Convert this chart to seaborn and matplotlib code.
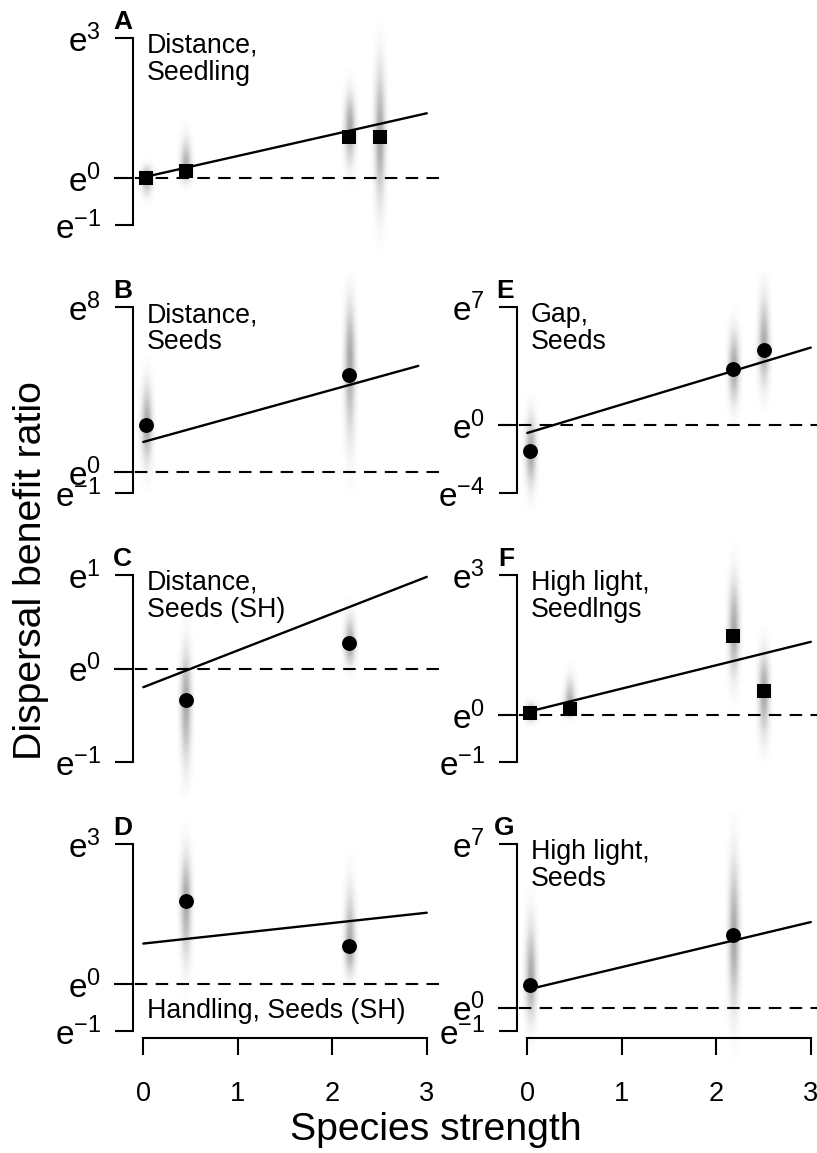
import numpy as np
import matplotlib
matplotlib.use('Agg')
import matplotlib.pyplot as plt
import seaborn as sns

# species strength (x) and posterior median benefit ratio (log scale) per panel
strength_A = [0.03, 0.45, 2.18, 2.5]
ratio_A = [0.0, 0.15, 0.88, 0.88]
fit_A = [0.02, 1.39]
mode_A = [0.0, 0.2, 1.1, 0.9]
low_A = [-0.47, -0.19, 0.02, -1.1]
high_A = [0.32, 1.03, 2.1, 2.95]

strength_B = [0.03, 2.18]
ratio_B = [2.28, 4.71]
fit_B = [1.47, 5.15]
mode_B = [2.3, 5.5]
low_B = [-0.24, 0.24]
high_B = [4.95, 9.2]

strength_C = [0.45, 2.18]
ratio_C = [-0.34, 0.27]
fit_C = [-0.2, 0.98]
mode_C = [-0.35, 0.25]
low_C = [-1.28, -0.05]
high_C = [0.41, 0.66]

strength_D = [0.45, 2.18]
ratio_D = [1.78, 0.82]
fit_D = [0.87, 1.53]
mode_D = [1.8, 0.75]
low_D = [0.09, 0.0]
high_D = [3.15, 2.44]

strength_E = [0.03, 2.18, 2.5]
ratio_E = [-1.54, 3.35, 4.44]
fit_E = [-0.45, 4.6]
mode_E = [-1.6, 3.4, 4.6]
low_E = [-4.4, 0.5, 1.5]
high_E = [1.3, 6.4, 8.6]

strength_F = [0.03, 0.45, 2.18, 2.5]
ratio_F = [0.04, 0.13, 1.70, 0.51]
fit_F = [0.07, 1.57]
mode_F = [0.05, 0.2, 1.8, 0.5]
low_F = [-0.21, -0.1, 0.47, -0.8]
high_F = [0.32, 0.96, 3.3, 1.67]

strength_G = [0.03, 2.18]
ratio_G = [0.95, 3.12]
fit_G = [0.77, 3.66]
mode_G = [1.2, 3.0]
low_G = [-1.2, -1.2]
high_G = [4.5, 7.5]

fit_x = [0, 3]
fit_x_B = [0, 2.91]

labels = ['A', 'B', 'C', 'D', 'E', 'F', 'G']
titles = ['Distance,\nSeedling', 'Distance,\nSeeds', 'Distance,\nSeeds (SH)',
          'Handling, Seeds (SH)', 'Gap,\nSeeds', 'High light,\nSeedlngs',
          'High light,\nSeeds']
y_top = [3, 8, 1, 3, 7, 3, 7]
y_bottom = [-1, -1, -1, -1, -4, -1, -1]

sns.set_theme(style='white')
plt.rcParams['font.family'] = ['Liberation Sans', 'DejaVu Sans']
plt.rcParams['mathtext.fontset'] = 'custom'
plt.rcParams['mathtext.rm'] = 'Liberation Sans'
plt.rcParams['text.color'] = 'black'
plt.rcParams['xtick.color'] = 'black'
plt.rcParams['ytick.color'] = 'black'

W, H = 817, 1153
fig = plt.figure(figsize=(W / 100, H / 100), dpi=100)
fig.patch.set_facecolor('white')


def smudge(ax, x, mode, lo, hi):
    # grey vertical cloud standing for the posterior draws
    s_lo = (mode - lo) / 2.2
    s_hi = (hi - mode) / 2.2
    ys = np.linspace(lo - 0.6 * s_lo, hi + 0.6 * s_hi, 300)
    s = np.where(ys < mode, s_lo, s_hi)
    prof = np.exp(-0.5 * ((ys - mode) / s) ** 2)
    xs = np.linspace(-1, 1, 21)
    hprof = np.exp(-0.5 * (xs / 0.42) ** 2)
    rgba = np.zeros((len(ys), len(xs), 4))
    rgba[..., :3] = 0.15
    rgba[..., 3] = np.outer(prof, hprof) * 0.4
    ax.imshow(rgba, extent=[x - 0.09, x + 0.09, ys[0], ys[-1]], origin='lower',
              aspect='auto', interpolation='bilinear', zorder=1)


def panel(i, col, top_px, bot_px, xs, ys, fit, modes, lows, highs, marker, fx=fit_x, bottom=False):
    pad = 34
    yt, yb = y_top[i], y_bottom[i]
    scale = (bot_px - top_px) / (yt - yb)
    left = 114 if col == 0 else 498
    ax = fig.add_axes([left / W, 1 - (bot_px + pad) / H, 326 / W, (bot_px - top_px + 2 * pad) / H])
    ax.patch.set_alpha(0)
    for x, m, lo, hi in zip(xs, modes, lows, highs):
        smudge(ax, x, m, lo, hi)
    ax.axhline(0, color='black', lw=1.5, ls=(0, (6, 4)), zorder=2)
    sns.lineplot(x=fx, y=fit, ax=ax, color='black', lw=1.7, zorder=3)
    sns.scatterplot(x=xs, y=ys, ax=ax, marker=marker, s=115, color='black',
                    linewidth=0, zorder=4)
    ax.set_xlim(-0.31, 3.14)
    ax.set_ylim(yb - pad / scale, yt + pad / scale)

    for sp in ['top', 'right', 'bottom']:
        ax.spines[sp].set_visible(False)
    ax.spines['left'].set_position(('data', -0.11))
    ax.spines['left'].set_bounds(yb, yt)
    ax.spines['left'].set_linewidth(1.5)
    ax.spines['left'].set_color('black')
    ax.set_yticks([yb, 0, yt])
    ax.set_yticklabels([r'$\mathregular{e^{%d}}$' % v for v in [yb, 0, yt]])
    ax.tick_params(axis='y', direction='out', length=13, width=1.5, labelsize=24,
                   pad=10, left=True, colors='black')
    if bottom:
        ax.spines['bottom'].set_visible(True)
        ax.spines['bottom'].set_position(('data', yb - 7 / scale))
        ax.spines['bottom'].set_bounds(0, 3)
        ax.spines['bottom'].set_linewidth(1.5)
        ax.spines['bottom'].set_color('black')
        ax.set_xticks([0, 1, 2, 3])
        ax.tick_params(axis='x', direction='out', length=12, width=1.5, labelsize=19.5,
                       pad=19, bottom=True, colors='black')
    else:
        ax.set_xticks([])
    ax.grid(False)

    bracket_px = 133 if col == 0 else 515
    fig.text((bracket_px - 1) / W, 1 - (top_px - 9) / H, labels[i], fontsize=19,
             fontweight='bold', ha='right', va='baseline')
    text_px = 147 if col == 0 else 531
    if labels[i] == 'D':
        fig.text(text_px / W, 1 - 1018 / H, titles[i], fontsize=19.3, ha='left', va='baseline')
    else:
        fig.text(text_px / W, 1 - (top_px - 5) / H, titles[i], fontsize=19.3, ha='left',
                 va='top', linespacing=1.07)
    return ax


panel(0, 0, 38, 225, strength_A, ratio_A, fit_A, mode_A, low_A, high_A, 's')
panel(1, 0, 307, 493, strength_B, ratio_B, fit_B, mode_B, low_B, high_B, 'o', fx=fit_x_B)
panel(2, 0, 575, 762, strength_C, ratio_C, fit_C, mode_C, low_C, high_C, 'o')
panel(3, 0, 844, 1031, strength_D, ratio_D, fit_D, mode_D, low_D, high_D, 'o', bottom=True)
panel(4, 1, 307, 493, strength_E, ratio_E, fit_E, mode_E, low_E, high_E, 'o')
panel(5, 1, 575, 762, strength_F, ratio_F, fit_F, mode_F, low_F, high_F, 's')
panel(6, 1, 844, 1031, strength_G, ratio_G, fit_G, mode_G, low_G, high_G, 'o', bottom=True)

fig.text(31 / W, 1 - 571 / H, 'Dispersal benefit ratio', fontsize=28.3, rotation=90,
         ha='center', va='center')
fig.text(436 / W, 1 - 1140 / H, 'Species strength', fontsize=28.3, ha='center', va='baseline')

fig.savefig('out.png', dpi=100)
